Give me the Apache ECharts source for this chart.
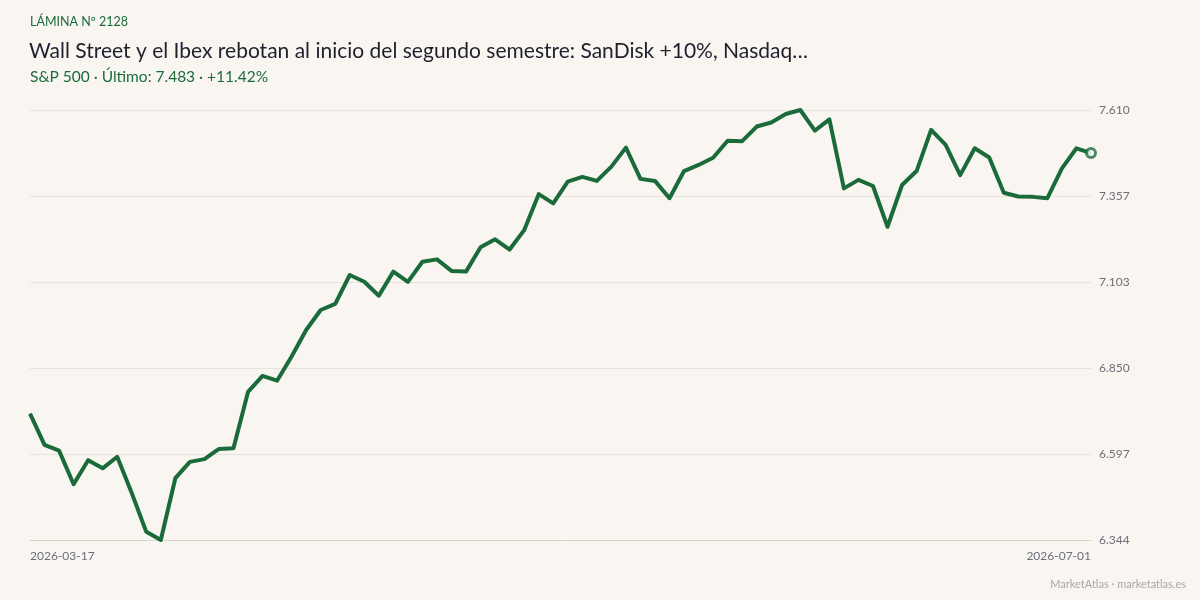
<!DOCTYPE html>
<html>
<head>
<meta charset="utf-8">
<style>
  html, body { margin: 0; padding: 0; background: #f9f6f1; }
  #chart { width: 1200px; height: 600px; }
</style>
<script src="https://cdn.jsdelivr.net/npm/echarts@6/dist/echarts.min.js"></script>
</head>
<body>
<div id="chart"></div>
<script>
const dates = [
  '2026-03-17','2026-03-18','2026-03-19','2026-03-20','2026-03-23','2026-03-24','2026-03-25','2026-03-26','2026-03-27','2026-03-30','2026-03-31',
  '2026-04-01','2026-04-02','2026-04-06','2026-04-07','2026-04-08','2026-04-09','2026-04-10','2026-04-13','2026-04-14','2026-04-15','2026-04-16','2026-04-17',
  '2026-04-20','2026-04-21','2026-04-22','2026-04-23','2026-04-24','2026-04-27','2026-04-28','2026-04-29','2026-04-30',
  '2026-05-01','2026-05-04','2026-05-05','2026-05-06','2026-05-07','2026-05-08','2026-05-11','2026-05-12','2026-05-13','2026-05-14','2026-05-15',
  '2026-05-18','2026-05-19','2026-05-20','2026-05-21','2026-05-22','2026-05-26','2026-05-27','2026-05-28','2026-05-29',
  '2026-06-01','2026-06-02','2026-06-03','2026-06-04','2026-06-05','2026-06-08','2026-06-09','2026-06-10','2026-06-11','2026-06-12',
  '2026-06-15','2026-06-16','2026-06-17','2026-06-18','2026-06-22','2026-06-23','2026-06-24','2026-06-25','2026-06-26','2026-06-29','2026-06-30',
  '2026-07-01'
];
const sp500 = [
  6716, 6624, 6607, 6508, 6579, 6555, 6589, 6482, 6368, 6344,
  6526, 6574, 6582, 6612, 6614, 6780, 6827, 6813, 6884, 6962,
  7021, 7039, 7124, 7104, 7063, 7134, 7104, 7163, 7170, 7136,
  7134, 7206, 7229, 7199, 7256, 7362, 7335, 7399, 7413, 7401,
  7443, 7499, 7407, 7401, 7350, 7430, 7448, 7469, 7519, 7518,
  7561, 7573, 7598, 7609.7, 7549, 7582, 7379, 7404, 7386, 7266,
  7389, 7430, 7551, 7507, 7418, 7497, 7470, 7366, 7355, 7354,
  7350, 7438, 7497, 7483
];
const yTicks = [6344, 6597.14, 6850.28, 7103.42, 7356.56, 7609.7];

const fmt = v => String(Math.round(v)).replace(/\B(?=(\d{3})+(?!\d))/g, '.');
const lastIdx = sp500.length - 1;
const green = '#1b6b3a';
const font = 'Lato, "Open Sans", sans-serif';

const chart = echarts.init(document.getElementById('chart'));
chart.setOption({
  backgroundColor: '#f9f6f1',
  animation: false,
  textStyle: { fontFamily: font },
  title: [
    { text: 'LÁMINA Nº 2128', left: 30, top: 15, padding: 0, textStyle: { fontFamily: font, fontSize: 12.5, fontWeight: 'normal', color: green } },
    { text: 'Wall Street y el Ibex rebotan al inicio del segundo semestre: SanDisk +10%, Nasdaq…', left: 29, top: 41, padding: 0, textStyle: { fontFamily: font, fontSize: 21, fontWeight: 'normal', color: '#1f1f2e' } },
    { text: 'S&P 500 · Último: ' + fmt(sp500[lastIdx]) + ' · +11.42%', left: 30, top: 69, padding: 0, textStyle: { fontFamily: font, fontSize: 15.5, fontWeight: 'normal', color: green } },
    { text: 'MarketAtlas · marketatlas.es', right: 14, top: 579, padding: 0, textStyle: { fontFamily: font, fontSize: 11, fontWeight: 'normal', color: '#a8a8a8' } }
  ],
  grid: { left: 30, right: 109, top: 110, bottom: 60 },
  xAxis: {
    type: 'category',
    data: dates,
    boundaryGap: false,
    axisLine: { show: true, lineStyle: { color: '#d8d2c8', width: 1 } },
    axisTick: { show: false },
    splitLine: { show: false },
    axisLabel: {
      color: '#6e6e7a', fontSize: 12, fontFamily: font, margin: 10,
      interval: (i) => i === 0 || i === lastIdx,
      alignMinLabel: 'left', alignMaxLabel: 'right'
    }
  },
  yAxis: {
    type: 'value',
    position: 'right',
    min: yTicks[0],
    max: yTicks[yTicks.length - 1],
    axisLine: { show: false },
    axisTick: { show: false, customValues: yTicks },
    splitLine: { show: true, lineStyle: { color: '#e8e3da', width: 1 } },
    axisLabel: {
      customValues: yTicks,
      color: '#6e6e7a', fontSize: 12, fontFamily: font, margin: 8,
      formatter: v => fmt(v)
    }
  },
  series: [
    {
      type: 'line',
      data: sp500,
      symbol: 'none',
      lineStyle: { color: green, width: 4, join: 'round' },
      z: 3
    },
    {
      type: 'scatter',
      data: [[lastIdx, sp500[lastIdx]]],
      symbol: 'circle',
      symbolSize: 9,
      itemStyle: { color: '#ffffff', borderColor: green, borderWidth: 3 },
      z: 4
    }
  ]
});
</script>
</body>
</html>
